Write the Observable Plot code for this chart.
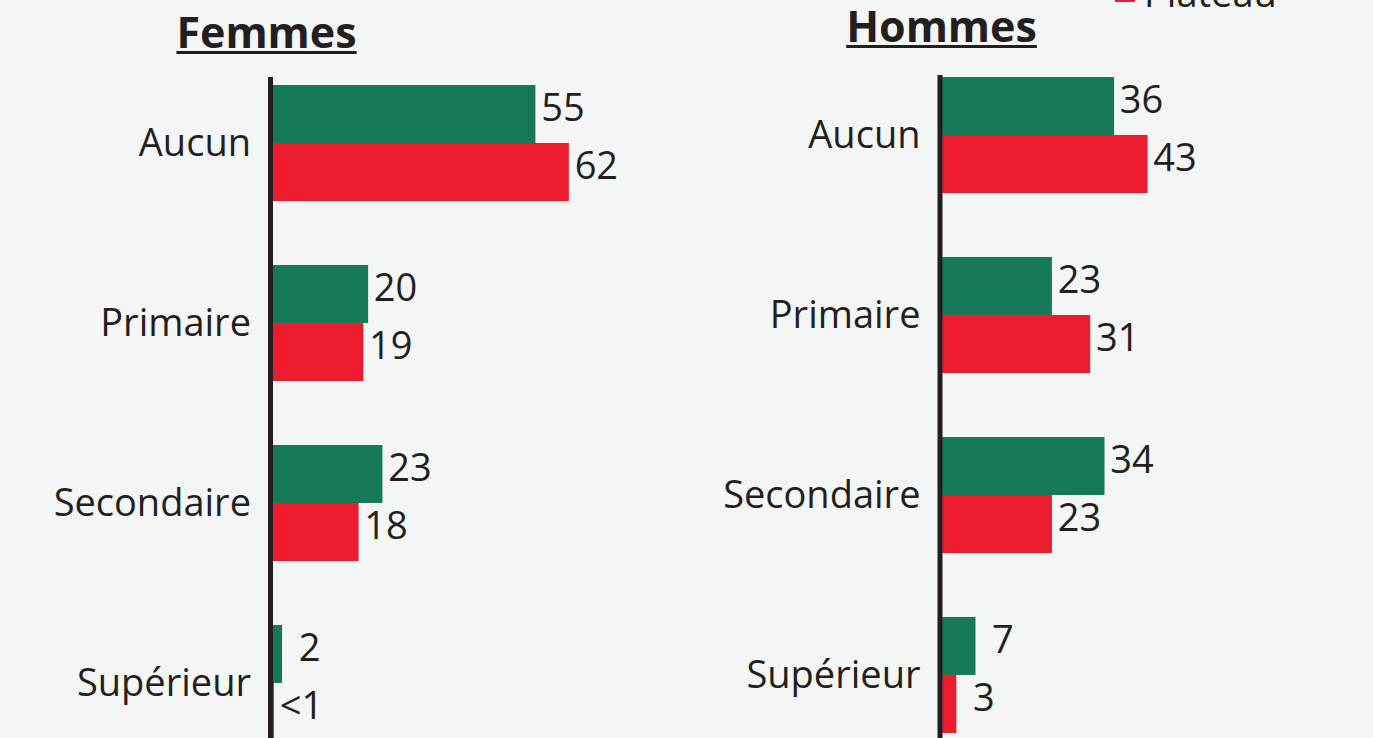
<!DOCTYPE html>
<html>
<head>
<meta charset="utf-8">
<script src="https://cdn.jsdelivr.net/npm/d3@7"></script>
<script src="https://cdn.jsdelivr.net/npm/@observablehq/plot@0.6"></script>
<style>
  html, body { margin: 0; padding: 0; background: #f3f6f5; overflow: hidden; }
  body { width: 1373px; height: 738px; position: relative; font-family: "Open Sans", sans-serif; color: #231f20; }
  .panel { position: absolute; top: 0; }
  .title { position: absolute; font-weight: 700; font-size: 43px; line-height: 1; white-space: nowrap;
           text-decoration: underline; text-decoration-thickness: 3px; text-underline-offset: 3px;
           transform: translateX(-50%); }
  .legend { position: absolute; left: 1115px; top: -108px; display: flex; flex-direction: column; gap: 40px; }
  .legend .item { display: flex; align-items: center; height: 40px; font-size: 38px; line-height: 1; }
  .legend .sw { width: 20px; height: 20px; margin-right: 9px; }
</style>
</head>
<body>
<script>
// ---- data ----
const categories = ["Aucun", "Primaire", "Secondaire", "Supérieur"];
const series = ["Nigeria", "Plateau"];
const seriesColors = ["#167a58", "#ec1c2e"];

const femmesNigeria = [55, 20, 23, 2];
const femmesPlateau = [62, 19, 18, 0.3];
const femmesNigeriaLabels = ["55", "20", "23", "2"];
const femmesPlateauLabels = ["62", "19", "18", "<1"];

const hommesNigeria = [36, 23, 34, 7];
const hommesPlateau = [43, 31, 23, 3];
const hommesNigeriaLabels = ["36", "23", "34", "7"];
const hommesPlateauLabels = ["43", "31", "23", "3"];

const panelTitles = ["Femmes", "Hommes"];

// ---- build ----
const ink = "#231f20";
const pxPerUnit = 4.78;
const xMax = 80;
const fs = 38;

function rows(values, labels, s) {
  return categories.map((c, i) => ({category: c, value: values[i], label: labels[i], series: s}));
}

function panel({left, width, marginLeft, marginTop, yStart, nig, plat, nigL, platL}) {
  const dNig = rows(nig, nigL, series[0]);
  const dPlat = rows(plat, platL, series[1]);
  const bw = 116, half = bw / 2;
  const chart = Plot.plot({
    width,
    height: 760,
    marginLeft,
    marginRight: width - marginLeft - xMax * pxPerUnit,
    marginTop,
    marginBottom: 0,
    style: {background: "transparent", fontFamily: "Open Sans", fontSize: fs + "px", color: ink, overflow: "visible"},
    x: {domain: [0, xMax], range: [marginLeft, marginLeft + xMax * pxPerUnit], axis: null},
    y: {domain: categories, range: [yStart, yStart + 180 * (4 - 64 / 180)], paddingInner: 64 / 180, paddingOuter: 0,
        tickSize: 0, tickPadding: 22, label: null},
    marks: [
      Plot.barX(dNig, {x: "value", y: "category", fill: seriesColors[0], insetBottom: half}),
      Plot.barX(dPlat, {x: "value", y: "category", fill: seriesColors[1], insetTop: half}),
      Plot.ruleX([0], {stroke: ink, strokeWidth: 5, dx: -2.5}),
      Plot.text(dNig, {x: "value", y: "category", text: "label", textAnchor: "middle", dx: 27, dy: -half / 2 - 6, fontSize: fs, fill: ink}),
      Plot.text(dPlat, {x: "value", y: "category", text: "label", textAnchor: "middle", dx: 27, dy: half / 2 - 6, fontSize: fs, fill: ink})
    ]
  });
  const wrap = document.createElement("div");
  wrap.className = "panel";
  wrap.style.left = left + "px";
  wrap.appendChild(chart);
  document.body.appendChild(wrap);
}

panel({left: 0, width: 686, marginLeft: 272.5, marginTop: 77, yStart: 85,
       nig: femmesNigeria, plat: femmesPlateau, nigL: femmesNigeriaLabels, platL: femmesPlateauLabels});
panel({left: 686, width: 687, marginLeft: 256, marginTop: 75, yStart: 77,
       nig: hommesNigeria, plat: hommesPlateau, nigL: hommesNigeriaLabels, platL: hommesPlateauLabels});

// titles
[[panelTitles[0], 266.5, 10.2], [panelTitles[1], 941.5, 4.2]].forEach(([t, cx, top]) => {
  const d = document.createElement("div");
  d.className = "title";
  d.textContent = t;
  d.style.left = cx + "px";
  d.style.top = top + "px";
  document.body.appendChild(d);
});

// legend (partly above the visible area, as in the reference)
const lg = document.createElement("div");
lg.className = "legend";
series.forEach((s, i) => {
  const it = document.createElement("div");
  it.className = "item";
  const sw = document.createElement("span");
  sw.className = "sw";
  sw.style.background = seriesColors[i];
  const tx = document.createElement("span");
  tx.textContent = s;
  it.appendChild(sw);
  it.appendChild(tx);
  lg.appendChild(it);
});
document.body.appendChild(lg);
</script>
</body>
</html>
